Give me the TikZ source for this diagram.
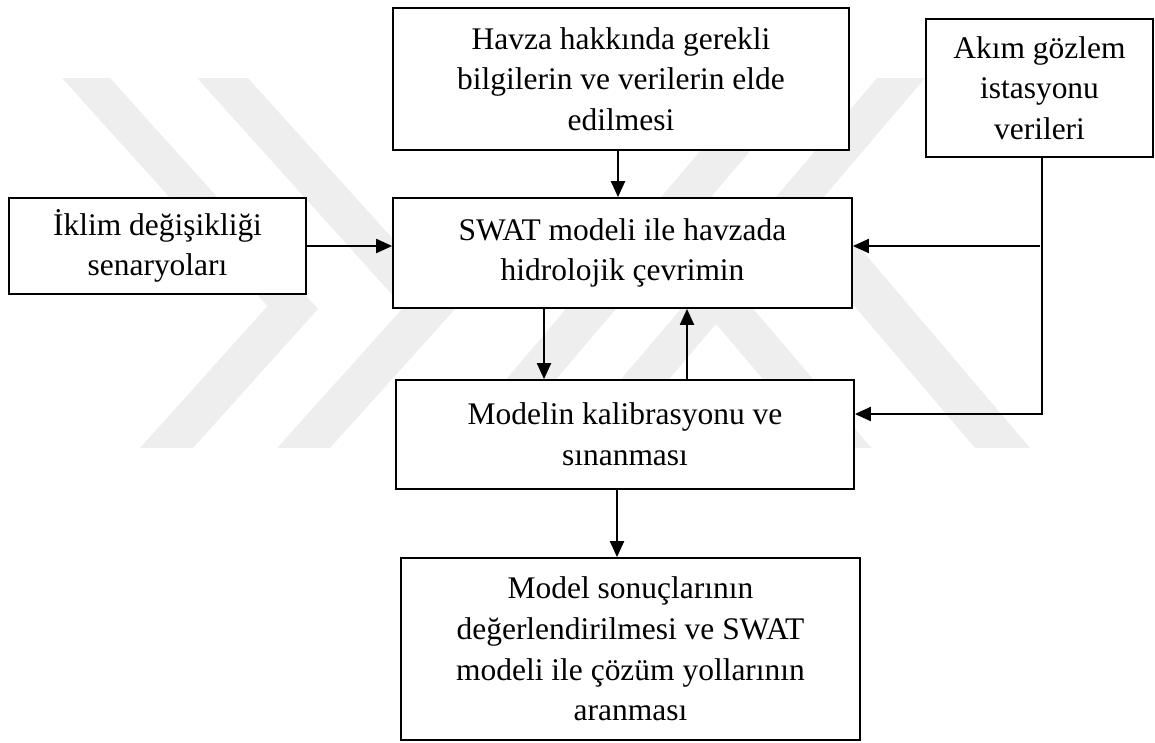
\documentclass[tikz,border=0pt]{standalone}
\usepackage{fontspec}
\setmainfont{Liberation Serif}
\usetikzlibrary{arrows.meta}
\definecolor{wmark}{gray}{0.935}
\begin{document}
\begin{tikzpicture}[x=0.75pt,y=-0.75pt,
  box/.style={draw=black, line width=1.3pt, fill=white, rectangle, inner sep=0pt,
    align=center, font=\fontsize{23.6pt}{30.5pt}\selectfont},
  flow/.style={line width=1.5pt, -{Triangle[length=12pt,width=10.5pt]}}]
\useasboundingbox (0,0) rectangle (1155,742);

% faint background emblem
\fill[wmark] (62,78) -- (110,78) -- (318,309) -- (193,448) -- (140,448) -- (267.5,306) -- cycle;
\fill[wmark] (197,78) -- (248,78) -- (455.5,308.6) -- (330,448) -- (277,448) -- (403.5,307.4) -- cycle;
\fill[wmark] (877,78) -- (925,78) -- (610.5,448) -- (562.5,448) -- cycle;
\fill[wmark] (716,324) -- (741,294.4) -- (871.5,448) -- (821.5,448) -- cycle;
\fill[wmark] (792.8,233.6) -- (820.3,201.2) -- (1030,448) -- (975,448) -- cycle;
\fill[wmark] (701,150) -- (751,150) -- (497.7,448) -- (447.7,448) -- cycle;

% boxes
\node[box, minimum width=342pt, minimum height=106.5pt] (havza) at (621,79)
  {Havza hakkında gerekli\\bilgilerin ve verilerin elde\\edilmesi};
\node[box, minimum width=170.25pt, minimum height=103.5pt] (akim) at (1039.5,88)
  {Akım gözlem\\istasyonu\\verileri};
\node[box, minimum width=222.75pt, minimum height=72pt] (iklim) at (157.5,246)
  {İklim değişikliği\\senaryoları};
\node[box, minimum width=344.25pt, minimum height=82.5pt] (swat) at (622.5,253)
  {SWAT modeli ile havzada\\hidrolojik çevrimin};
\node[box, minimum width=343.5pt, minimum height=81.75pt] (kalib) at (625,434.5)
  {Modelin kalibrasyonu ve\\sınanması};
\node[box, minimum width=344.25pt, minimum height=136.5pt] (sonuc) at (630.5,649)
  {Model sonuçlarının\\değerlendirilmesi ve SWAT\\modeli ile çözüm yollarının\\aranması};

% connectors
\draw[flow] ([xshift=-2.25pt]havza.south) -- ([xshift=-3.375pt]swat.north);
\draw[flow] (iklim.east) -- ([yshift=5.25pt]swat.west);
\draw[flow] ([xshift=1.875pt]akim.south) |- ([yshift=15.375pt]kalib.east);
\coordinate (tap) at (1040,246);
\draw[flow] (tap) -- ([yshift=5.25pt]swat.east);
\draw[flow] ([xshift=-58.875pt]swat.south) -- ([xshift=-60.75pt]kalib.north);
\draw[flow] ([xshift=46.5pt]kalib.north) -- ([xshift=48.375pt]swat.south);
\draw[flow] ([xshift=-6pt]kalib.south) -- ([xshift=-10.125pt]sonuc.north);
\end{tikzpicture}
\end{document}
